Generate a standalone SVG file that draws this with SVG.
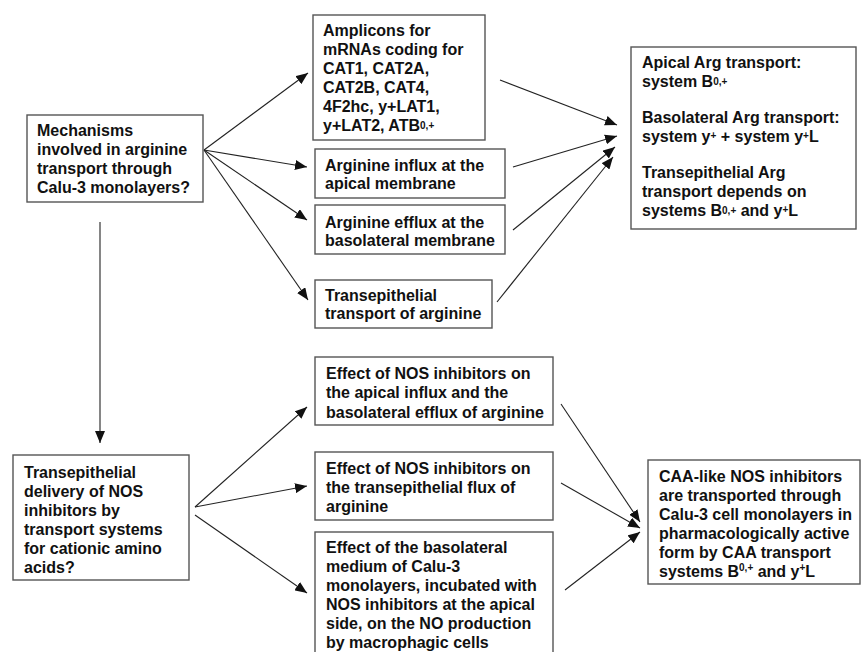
<svg xmlns="http://www.w3.org/2000/svg" width="862" height="652" viewBox="0 0 862 652">
<defs>
<style>
.box{fill:#fff;stroke:#555;stroke-width:1.4}
.t{font-family:"Liberation Sans",Arial,sans-serif;font-weight:bold;font-size:16px;fill:#111}
.sup{font-size:10px}
.c{stroke:#222;stroke-width:1.1;fill:none;marker-end:url(#ah)}
</style>
<marker id="ah" markerUnits="userSpaceOnUse" markerWidth="13" markerHeight="10" refX="12" refY="5" orient="auto">
<path d="M0,0 L12,5 L0,10 z" fill="#111"/>
</marker>
</defs>
<rect width="862" height="652" fill="#fff"/>
<g id="connectors">
<line class="c" x1="204" y1="150" x2="308" y2="73"/>
<line class="c" x1="204" y1="150" x2="307" y2="167"/>
<line class="c" x1="204" y1="150" x2="307" y2="220"/>
<line class="c" x1="204" y1="150" x2="308" y2="300"/>
<line class="c" x1="100" y1="222" x2="100" y2="443"/>
<line class="c" x1="500" y1="80" x2="617" y2="125"/>
<line class="c" x1="513" y1="167" x2="617" y2="136"/>
<line class="c" x1="513" y1="230" x2="615" y2="147"/>
<line class="c" x1="497" y1="302" x2="613" y2="157"/>
<line class="c" x1="195" y1="507" x2="307" y2="407"/>
<line class="c" x1="195" y1="507" x2="307" y2="486"/>
<line class="c" x1="195" y1="515" x2="307" y2="593"/>
<line class="c" x1="561" y1="404" x2="640" y2="522"/>
<line class="c" x1="561" y1="483" x2="640" y2="528"/>
<line class="c" x1="565" y1="590" x2="640" y2="532"/>
</g>
<g id="mechanisms">
<rect class="box" x="27" y="115" width="176" height="87"/>
<text class="t" x="37" y="136">Mechanisms</text>
<text class="t" x="37" y="155">involved in arginine</text>
<text class="t" x="37" y="174">transport through</text>
<text class="t" x="37" y="193">Calu-3 monolayers?</text>
</g>
<g id="amplicons">
<rect class="box" x="313" y="15" width="172" height="125"/>
<text class="t" x="323" y="36">Amplicons for</text>
<text class="t" x="323" y="55">mRNAs coding for</text>
<text class="t" x="323" y="74">CAT1, CAT2A,</text>
<text class="t" x="323" y="93">CAT2B, CAT4,</text>
<text class="t" x="323" y="112">4F2hc, y+LAT1,</text>
<text class="t" x="323" y="131">y+LAT2, ATB<tspan class="sup" dy="-2">0,+</tspan></text>
</g>
<g id="influx">
<rect class="box" x="315" y="149" width="190" height="49"/>
<text class="t" x="325" y="171">Arginine influx at the</text>
<text class="t" x="325" y="189">apical membrane</text>
</g>
<g id="efflux">
<rect class="box" x="315" y="205" width="190" height="49"/>
<text class="t" x="325" y="228">Arginine efflux at the</text>
<text class="t" x="325" y="246">basolateral membrane</text>
</g>
<g id="transepithelial">
<rect class="box" x="315" y="280" width="177" height="48"/>
<text class="t" x="325" y="301">Transepithelial</text>
<text class="t" x="325" y="319">transport of arginine</text>
</g>
<g id="result-top">
<rect class="box" x="631" y="47" width="225" height="182"/>
<text class="t" x="642" y="68">Apical Arg transport:</text>
<text class="t" x="642" y="87">system B<tspan class="sup" dy="-2">0,+</tspan></text>
<text class="t" x="642" y="123">Basolateral Arg transport:</text>
<text class="t" x="642" y="142">system y<tspan class="sup" dy="-3">+</tspan><tspan dy="3"> + system y</tspan><tspan class="sup" dy="-3">+</tspan><tspan dy="3">L</tspan></text>
<text class="t" x="642" y="178">Transepithelial Arg</text>
<text class="t" x="642" y="197">transport depends on</text>
<text class="t" x="642" y="216">systems B<tspan class="sup" dy="-2">0,+</tspan><tspan dy="2"> and y</tspan><tspan class="sup" dy="-3">+</tspan><tspan dy="3">L</tspan></text>
</g>
<g id="delivery">
<rect class="box" x="13" y="455" width="176" height="125"/>
<text class="t" x="24" y="478">Transepithelial</text>
<text class="t" x="24" y="497">delivery of NOS</text>
<text class="t" x="24" y="516">inhibitors by</text>
<text class="t" x="24" y="535">transport systems</text>
<text class="t" x="24" y="554">for cationic amino</text>
<text class="t" x="24" y="573">acids?</text>
</g>
<g id="effect1">
<rect class="box" x="315" y="357" width="238" height="68"/>
<text class="t" x="326" y="379">Effect of NOS inhibitors on</text>
<text class="t" x="326" y="398">the apical influx and the</text>
<text class="t" x="326" y="418">basolateral efflux of arginine</text>
</g>
<g id="effect2">
<rect class="box" x="315" y="452" width="238" height="68"/>
<text class="t" x="326" y="474">Effect of NOS inhibitors on</text>
<text class="t" x="326" y="493">the transepithelial flux of</text>
<text class="t" x="326" y="512">arginine</text>
</g>
<g id="effect3">
<rect class="box" x="315" y="532" width="238" height="126"/>
<text class="t" x="326" y="553">Effect of the basolateral</text>
<text class="t" x="326" y="572">medium of Calu-3</text>
<text class="t" x="326" y="591">monolayers, incubated with</text>
<text class="t" x="326" y="610">NOS inhibitors at the apical</text>
<text class="t" x="326" y="629">side, on the NO production</text>
<text class="t" x="326" y="648">by macrophagic cells</text>
</g>
<g id="result-bottom">
<rect class="box" x="648" y="460" width="212" height="124"/>
<text class="t" x="659" y="482">CAA-like NOS inhibitors</text>
<text class="t" x="659" y="501">are transported through</text>
<text class="t" x="659" y="520">Calu-3 cell monolayers in</text>
<text class="t" x="659" y="539">pharmacologically active</text>
<text class="t" x="659" y="558">form by CAA transport</text>
<text class="t" x="659" y="577">systems B<tspan class="sup" dy="-6">0,+</tspan><tspan dy="6"> and y</tspan><tspan class="sup" dy="-6">+</tspan><tspan dy="6">L</tspan></text>
</g>
</svg>
